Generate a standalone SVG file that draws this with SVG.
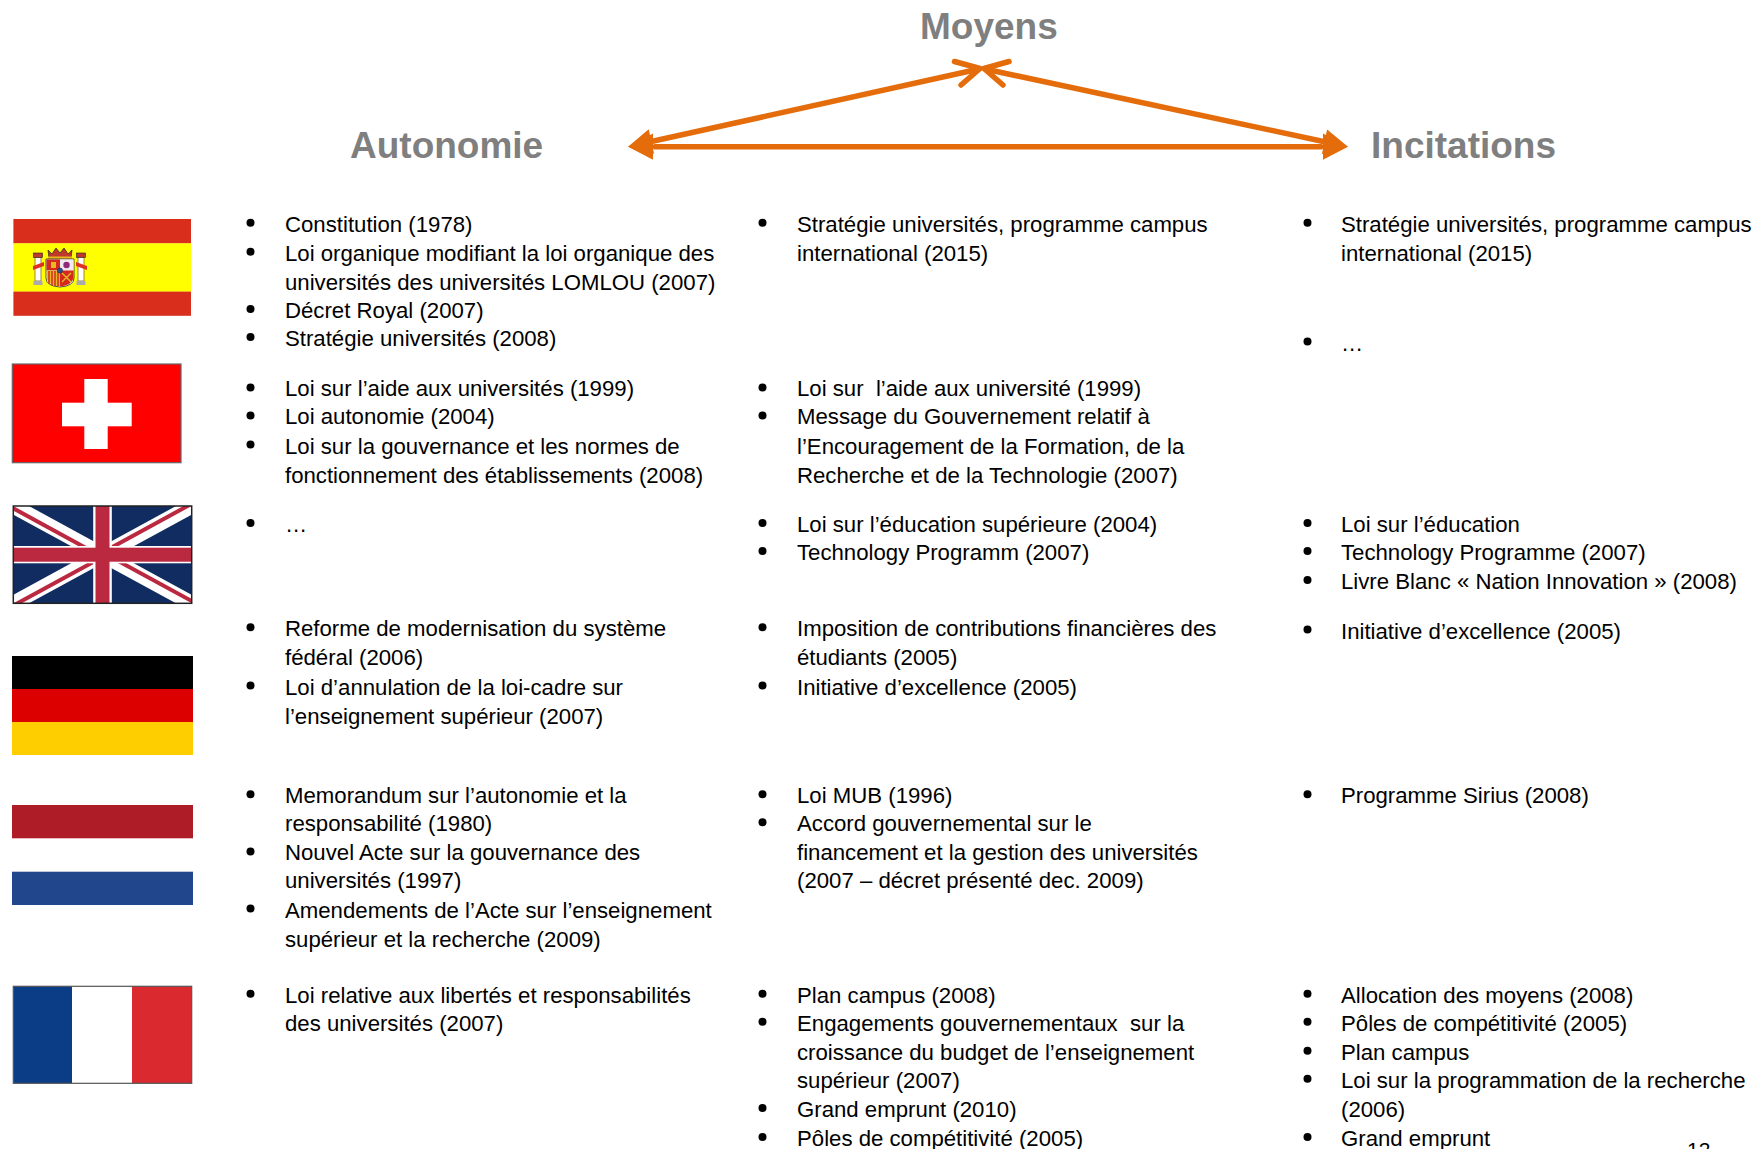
<svg xmlns="http://www.w3.org/2000/svg" width="1758" height="1149" viewBox="0 0 1758 1149">
<style>
.t{font-family:"Liberation Sans",Arial,sans-serif;font-size:22.2px;fill:#000}
.h{font-family:"Liberation Sans",Arial,sans-serif;font-weight:bold;font-size:37px;fill:#7f7f7f}
.pg{font-family:"Liberation Sans",Arial,sans-serif;font-size:21px;fill:#000}
.b{fill:#000}
.ln{stroke:#e46c0a;stroke-width:5.5;fill:none;stroke-linecap:round;stroke-linejoin:round}
.ah{fill:#e46c0a}
</style>
<defs>
<clipPath id="ukc"><rect x="0" y="0" width="178.4" height="97.3"/></clipPath>
<clipPath id="ukt"><path d="M89.2,48.65 h89.2 v48.65 z v48.65 h-89.2 z h-89.2 v-48.65 z v-48.65 h89.2 z"/></clipPath>
</defs>
<rect width="1758" height="1149" fill="#fff"/>

<g id="connectors">
<line class="ln" x1="655" y1="146.7" x2="1321" y2="146.7"/>
<line class="ln" x1="651.4" y1="141.5" x2="979" y2="69"/>
<line class="ln" x1="985" y1="69" x2="1324.5" y2="141.7"/>
<polygon class="ah" points="628,146.7 653,133.5 653,159.8"/>
<polygon class="ah" points="628,146.7 648.7,129.3 654.1,153.7"/>
<polygon class="ah" points="1348,146.7 1323,133.5 1323,159.8"/>
<polygon class="ah" points="1348,146.7 1327.1,129.5 1321.9,153.9"/>
<polyline class="ln" points="954.5,61.5 980,68.5 961,85"/>
<polyline class="ln" points="1009,61.5 984,68.5 1003,85"/>
</g>

<g id="moyens"><text class="h" x="920" y="39.3">Moyens</text></g>
<g id="autonomie"><text class="h" x="350" y="158.3">Autonomie</text></g>
<g id="incitations"><text class="h" x="1371" y="158.3">Incitations</text></g>

<g id="espagne">
<rect x="13.4" y="219" width="177.6" height="24.5" fill="#da2e1c"/>
<rect x="13.4" y="243.3" width="177.6" height="48.5" fill="#ffff00"/>
<rect x="13.4" y="291.6" width="177.6" height="24.2" fill="#da2e1c"/>
<g id="armoiries">
<rect x="35" y="257" width="6" height="24" fill="#fff" stroke="#8a6a30" stroke-width="0.8"/>
<rect x="33.5" y="253" width="9" height="4.5" fill="#c0392b" stroke="#222" stroke-width="0.6"/>
<rect x="33.5" y="281" width="9" height="4" fill="#aaa"/>
<path d="M33,266 L44,262 L44,266 L33,270 Z" fill="#e03020"/>
<rect x="78" y="257" width="6" height="24" fill="#fff" stroke="#8a6a30" stroke-width="0.8"/>
<rect x="76.5" y="253" width="9" height="4.5" fill="#c0392b" stroke="#222" stroke-width="0.6"/>
<rect x="76.5" y="281" width="9" height="4" fill="#aaa"/>
<path d="M76,262 L87,266 L87,270 L76,266 Z" fill="#e03020"/>
<path d="M48,250 L52,254 L56,248 L60,253 L64,248 L68,254 L72,250 L71,258 L49,258 Z" fill="#c0392b" stroke="#222" stroke-width="0.7"/>
<rect x="48" y="256.5" width="24" height="2.5" fill="#e8b820"/>
<path d="M46,259 H74 V278 Q74,286 60,287 Q46,286 46,278 Z" fill="#fff" stroke="#222" stroke-width="0.8"/>
<rect x="46.5" y="259.5" width="13.5" height="11" fill="#d22b1e"/>
<rect x="51" y="262" width="5" height="6" fill="#e8b820"/>
<rect x="60" y="259.5" width="13.5" height="11" fill="#f3e7f0"/>
<circle cx="66.5" cy="265" r="3.2" fill="#8e2a7a"/>
<path d="M46.5,270.5 H60 V286.5 Q48,285 46.5,278 Z" fill="#e8b820"/>
<path d="M49,271 V284 M52,271 V285.5 M55,271 V286 M58,271 V286.5" stroke="#d22b1e" stroke-width="1.5"/>
<path d="M60,270.5 H73.5 V278 Q72,285 60,286.5 Z" fill="#d22b1e"/>
<path d="M62,273 L71,282 M71,273 L62,282" stroke="#e8b820" stroke-width="1.4"/>
<circle cx="60" cy="270.5" r="2.6" fill="#2a4fa0" stroke="#222" stroke-width="0.5"/>
</g>
</g>

<g id="suisse">
<rect x="12.3" y="364" width="168.7" height="98.7" fill="#ff0000" stroke="#666" stroke-width="1.2"/>
<rect x="84.3" y="379" width="23.4" height="70" fill="#fff"/>
<rect x="62" y="402.7" width="69.7" height="23.6" fill="#fff"/>
</g>

<g id="royaume-uni" transform="translate(13.3,506)">
<g clip-path="url(#ukc)">
<rect width="178.4" height="97.3" fill="#102c61"/>
<path d="M0,0 L178.4,97.3 M178.4,0 L0,97.3" stroke="#fff" stroke-width="15"/>
<path d="M0,0 L178.4,97.3 M178.4,0 L0,97.3" stroke="#bb2940" stroke-width="8" clip-path="url(#ukt)"/>
<rect x="79.9" y="0" width="18.6" height="97.3" fill="#fff"/>
<rect x="0" y="40" width="178.4" height="17.3" fill="#fff"/>
<rect x="82.2" y="0" width="14" height="97.3" fill="#bb2940"/>
<rect x="0" y="41.7" width="178.4" height="14" fill="#bb2940"/>
</g>
<rect width="178.4" height="97.3" fill="none" stroke="#222" stroke-width="1.5"/>
</g>

<g id="allemagne">
<rect x="12" y="656" width="181" height="33" fill="#000"/>
<rect x="12" y="689" width="181" height="33" fill="#dd0000"/>
<rect x="12" y="722" width="181" height="33" fill="#ffce00"/>
</g>

<g id="pays-bas">
<rect x="12" y="805" width="181" height="33.3" fill="#ae1c28"/>
<rect x="12" y="871.7" width="181" height="33.3" fill="#21468b"/>
</g>

<g id="france">
<rect x="13.3" y="986.3" width="58.7" height="97" fill="#0b3d87"/>
<rect x="72" y="986.3" width="60" height="97" fill="#fff"/>
<rect x="132" y="986.3" width="59.7" height="97" fill="#db2a2f"/>
<rect x="13.3" y="986.3" width="178.4" height="97" fill="none" stroke="#555" stroke-width="1.2"/>
</g>

<g id="espagne-autonomie">
<circle class="b" cx="250.5" cy="222.7" r="4"/><text class="t" x="285" y="231.7">Constitution (1978)</text>
<circle class="b" cx="250.5" cy="251.8" r="4"/><text class="t" x="285" y="260.8">Loi organique modifiant la loi organique des</text>
<text class="t" x="285" y="290">universités des universités LOMLOU (2007)</text>
<circle class="b" cx="250.5" cy="309" r="4"/><text class="t" x="285" y="318">Décret Royal (2007)</text>
<circle class="b" cx="250.5" cy="337" r="4"/><text class="t" x="285" y="346">Stratégie universités (2008)</text>
</g>
<g id="espagne-moyens">
<circle class="b" cx="762.5" cy="222.7" r="4"/><text class="t" x="797" y="231.7">Stratégie universités, programme campus</text>
<text class="t" x="797" y="260.8">international (2015)</text>
</g>
<g id="espagne-incitations">
<circle class="b" cx="1307.5" cy="222.7" r="4"/><text class="t" x="1341" y="231.7">Stratégie universités, programme campus</text>
<text class="t" x="1341" y="260.8">international (2015)</text>
<circle class="b" cx="1307.5" cy="341.5" r="4"/><text class="t" x="1341" y="350.5">…</text>
</g>

<g id="suisse-autonomie">
<circle class="b" cx="250.5" cy="387.4" r="4"/><text class="t" x="285" y="396.4">Loi sur l’aide aux universités (1999)</text>
<circle class="b" cx="250.5" cy="415.4" r="4"/><text class="t" x="285" y="424.4">Loi autonomie (2004)</text>
<circle class="b" cx="250.5" cy="444.6" r="4"/><text class="t" x="285" y="453.6">Loi sur la gouvernance et les normes de</text>
<text class="t" x="285" y="482.7">fonctionnement des établissements (2008)</text>
</g>
<g id="suisse-moyens">
<circle class="b" cx="762.5" cy="387.4" r="4"/><text class="t" x="797" y="396.4" xml:space="preserve">Loi sur  l’aide aux université (1999)</text>
<circle class="b" cx="762.5" cy="415.4" r="4"/><text class="t" x="797" y="424.4">Message du Gouvernement relatif à</text>
<text class="t" x="797" y="453.6">l’Encouragement de la Formation, de la</text>
<text class="t" x="797" y="482.7">Recherche et de la Technologie (2007)</text>
</g>

<g id="royaume-uni-autonomie">
<circle class="b" cx="250.5" cy="523" r="4"/><text class="t" x="285" y="532">…</text>
</g>
<g id="royaume-uni-moyens">
<circle class="b" cx="762.5" cy="523" r="4"/><text class="t" x="797" y="532">Loi sur l’éducation supérieure (2004)</text>
<circle class="b" cx="762.5" cy="551" r="4"/><text class="t" x="797" y="560">Technology Programm (2007)</text>
</g>
<g id="royaume-uni-incitations">
<circle class="b" cx="1307.5" cy="523" r="4"/><text class="t" x="1341" y="532">Loi sur l’éducation</text>
<circle class="b" cx="1307.5" cy="551" r="4"/><text class="t" x="1341" y="560">Technology Programme (2007)</text>
<circle class="b" cx="1307.5" cy="580.1" r="4"/><text class="t" x="1341" y="589.1">Livre Blanc « Nation Innovation » (2008)</text>
</g>

<g id="allemagne-autonomie">
<circle class="b" cx="250.5" cy="627.2" r="4"/><text class="t" x="285" y="636.2">Reforme de modernisation du système</text>
<text class="t" x="285" y="665.4">fédéral (2006)</text>
<circle class="b" cx="250.5" cy="685.5" r="4"/><text class="t" x="285" y="694.5">Loi d’annulation de la loi-cadre sur</text>
<text class="t" x="285" y="723.7">l’enseignement supérieur (2007)</text>
</g>
<g id="allemagne-moyens">
<circle class="b" cx="762.5" cy="627.2" r="4"/><text class="t" x="797" y="636.2">Imposition de contributions financières des</text>
<text class="t" x="797" y="665.4">étudiants (2005)</text>
<circle class="b" cx="762.5" cy="685.5" r="4"/><text class="t" x="797" y="694.5">Initiative d’excellence (2005)</text>
</g>
<g id="allemagne-incitations">
<circle class="b" cx="1307.5" cy="629.5" r="4"/><text class="t" x="1341" y="638.5">Initiative d’excellence (2005)</text>
</g>

<g id="pays-bas-autonomie">
<circle class="b" cx="250.5" cy="794.2" r="4"/><text class="t" x="285" y="803.2">Memorandum sur l’autonomie et la</text>
<text class="t" x="285" y="831.2">responsabilité (1980)</text>
<circle class="b" cx="250.5" cy="851.4" r="4"/><text class="t" x="285" y="860.4">Nouvel Acte sur la gouvernance des</text>
<text class="t" x="285" y="888.4">universités (1997)</text>
<circle class="b" cx="250.5" cy="908.5" r="4"/><text class="t" x="285" y="917.5">Amendements de l’Acte sur l’enseignement</text>
<text class="t" x="285" y="946.6">supérieur et la recherche (2009)</text>
</g>
<g id="pays-bas-moyens">
<circle class="b" cx="762.5" cy="794.2" r="4"/><text class="t" x="797" y="803.2">Loi MUB (1996)</text>
<circle class="b" cx="762.5" cy="822.2" r="4"/><text class="t" x="797" y="831.2">Accord gouvernemental sur le</text>
<text class="t" x="797" y="860.4">financement et la gestion des universités</text>
<text class="t" x="797" y="888.4">(2007 – décret présenté dec. 2009)</text>
</g>
<g id="pays-bas-incitations">
<circle class="b" cx="1307.5" cy="794.2" r="4"/><text class="t" x="1341" y="803.2">Programme Sirius (2008)</text>
</g>

<g id="france-autonomie">
<circle class="b" cx="250.5" cy="993.7" r="4"/><text class="t" x="285" y="1002.7">Loi relative aux libertés et responsabilités</text>
<text class="t" x="285" y="1030.7">des universités (2007)</text>
</g>
<g id="france-moyens">
<circle class="b" cx="762.5" cy="993.7" r="4"/><text class="t" x="797" y="1002.7">Plan campus (2008)</text>
<circle class="b" cx="762.5" cy="1021.7" r="4"/><text class="t" x="797" y="1030.7" xml:space="preserve">Engagements gouvernementaux  sur la</text>
<text class="t" x="797" y="1059.8">croissance du budget de l’enseignement</text>
<text class="t" x="797" y="1087.8">supérieur (2007)</text>
<circle class="b" cx="762.5" cy="1108" r="4"/><text class="t" x="797" y="1117">Grand emprunt (2010)</text>
<circle class="b" cx="762.5" cy="1137.1" r="4"/><text class="t" x="797" y="1146.1">Pôles de compétitivité (2005)</text>
</g>
<g id="france-incitations">
<circle class="b" cx="1307.5" cy="993.7" r="4"/><text class="t" x="1341" y="1002.7">Allocation des moyens (2008)</text>
<circle class="b" cx="1307.5" cy="1021.7" r="4"/><text class="t" x="1341" y="1030.7">Pôles de compétitivité (2005)</text>
<circle class="b" cx="1307.5" cy="1050.8" r="4"/><text class="t" x="1341" y="1059.8">Plan campus</text>
<circle class="b" cx="1307.5" cy="1078.8" r="4"/><text class="t" x="1341" y="1087.8">Loi sur la programmation de la recherche</text>
<text class="t" x="1341" y="1117">(2006)</text>
<circle class="b" cx="1307.5" cy="1137.1" r="4"/><text class="t" x="1341" y="1146.1">Grand emprunt</text>
</g>

<g id="page"><text class="pg" x="1687" y="1157">12</text></g>
</svg>
